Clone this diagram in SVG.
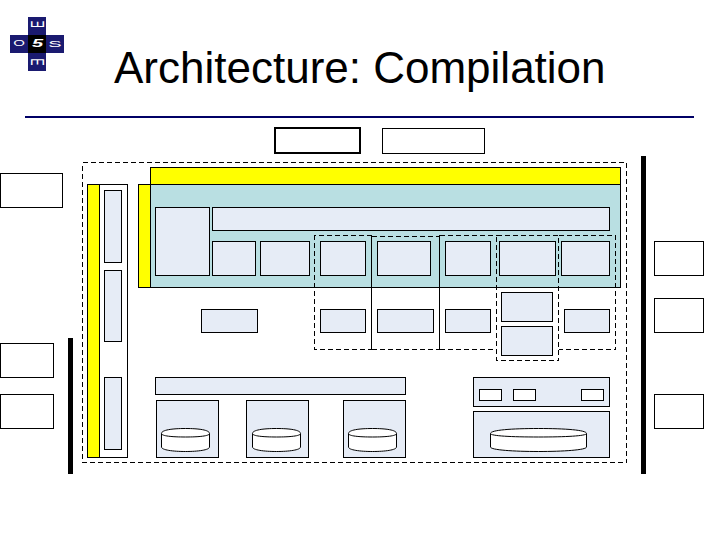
<svg xmlns="http://www.w3.org/2000/svg" width="720" height="540" viewBox="0 0 720 540">
<style>
rect,path,line{shape-rendering:crispEdges}
.b{fill:#e6ecf6;stroke:#000;stroke-width:1}
.w{fill:#fff;stroke:#000;stroke-width:1}
.y{fill:#ff0;stroke:#000;stroke-width:1}
.t{fill:#b9dfe2;stroke:#000;stroke-width:1}
.d{fill:none;stroke:#000;stroke-width:1;stroke-dasharray:5 3}
.s{stroke:#000;stroke-width:1;fill:none}
.c{fill:#fff;stroke:#000;stroke-width:1;shape-rendering:geometricPrecision}
.l{font-family:"Liberation Sans",Arial,sans-serif;font-size:10px;fill:#fff;text-anchor:middle}
</style>
<rect width="720" height="540" fill="#fff"/>
<g id="logo">
<rect x="28" y="17" width="18" height="54" fill="#1a1a70"/>
<rect x="10" y="35" width="54" height="18" fill="#1a1a70"/>
<rect x="28" y="35" width="18" height="18" fill="#000"/>
<text class="l" transform="translate(37.300 24.400) rotate(-90) scale(1.100 1.860)" y="3.600">E</text>
<text class="l" transform="translate(37.300 62) rotate(90) scale(1.100 1.860)" y="3.600">E</text>
<text class="l" transform="translate(19.200 43) scale(1.500 0.900)" y="3.600">O</text>
<text class="l" transform="translate(55 43.500) scale(2 0.900)" y="3.600">S</text>
<text class="l" transform="translate(37.500 43.200) scale(2 1.050)" y="3.600" font-style="italic" font-weight="bold">5</text>
</g>
<g id="title"><text x="114" y="83" font-family="'Liberation Sans',Arial,sans-serif" font-size="44" fill="#000">Architecture: Compilation</text></g>
<rect id="rule" x="25" y="116" width="669" height="2" fill="#000066"/>
<g id="outer"><rect class="d" x="82.5" y="162.5" width="544" height="300"/></g>
<g id="top-boxes">
<rect x="275" y="128" width="85" height="25" fill="#fff" stroke="#000" stroke-width="2"/>
<rect class="w" x="382.5" y="128.5" width="102" height="25"/>
</g>
<g id="left-boxes">
<rect class="w" x="0.5" y="173.5" width="62" height="34"/>
<rect class="w" x="0.5" y="343.5" width="53" height="34"/>
<rect class="w" x="0.500" y="394.5" width="53" height="34"/>
</g>
<g id="right-boxes">
<rect class="w" x="654.5" y="241.5" width="49" height="34"/>
<rect class="w" x="654.5" y="298.5" width="49" height="34"/>
<rect class="w" x="654.5" y="394.5" width="49" height="34"/>
</g>
<g id="bars">
<rect x="68" y="338" width="5" height="136" fill="#000"/>
<rect x="641" y="156" width="5" height="318" fill="#000"/>
</g>
<g id="left-column">
<rect class="w" x="87.5" y="184.5" width="40" height="273"/>
<rect class="y" x="87.5" y="184.5" width="12" height="273"/>
<rect class="b" x="104.5" y="190.5" width="17" height="72"/>
<rect class="b" x="104.5" y="270.5" width="17" height="71"/>
<rect class="b" x="104.5" y="377.5" width="17" height="72"/>
</g>
<g id="compiler">
<rect class="t" x="150.5" y="184.5" width="470" height="103"/>
<rect class="y" x="150.5" y="167.5" width="470" height="17"/>
<rect class="y" x="138.5" y="184.5" width="12" height="103"/>
<rect class="b" x="155.5" y="207.5" width="54" height="68"/>
<rect class="b" x="212.5" y="207.5" width="397" height="23"/>
<rect class="b" x="212.5" y="241.5" width="43" height="34"/>
<rect class="b" x="260.5" y="241.5" width="49" height="34"/>
<rect class="b" x="320.500" y="241.5" width="45" height="34"/>
<rect class="b" x="377.500" y="241.5" width="53" height="34"/>
<rect class="b" x="445.500" y="241.5" width="45" height="34"/>
<rect class="b" x="499.500" y="241.5" width="56" height="34"/>
<rect class="b" x="561.500" y="241.5" width="48" height="34"/>
</g>
<g id="lower-row">
<rect class="b" x="201.5" y="309.5" width="56" height="23"/>
<rect class="b" x="320.5" y="309.5" width="45" height="23"/>
<rect class="b" x="377.5" y="309.5" width="56" height="23"/>
<rect class="b" x="445.5" y="309.5" width="45" height="23"/>
<rect class="b" x="564.5" y="309.5" width="45" height="23"/>
<rect class="b" x="501.5" y="292.5" width="51" height="29"/>
<rect class="b" x="501.5" y="326.5" width="51" height="29"/>
</g>
<g id="connectors">
<path class="d" d="M371.500 235.500H314.500V349.500H371.500"/>
<path class="d" d="M371.500 236.500H439.500M371.500 349.500H439.500"/>
<path class="d" d="M439.500 235.500H496.500M439.500 349.500H496.500"/>
<rect class="d" x="496.5" y="235.5" width="62" height="125"/>
<path class="d" d="M558.500 235.500H615.500V349.500H558.500"/>
<path class="s" d="M371.500 235V350M439.500 235V350"/>
</g>
<g id="storage">
<rect class="b" x="155.5" y="377.5" width="250" height="17"/>
<rect class="b" x="156.5" y="400.5" width="62" height="57"/>
<rect class="b" x="246.5" y="400.5" width="62" height="57"/>
<rect class="b" x="343.5" y="400.5" width="62" height="57"/>
<path class="c" d="M161.500 433.500C161.500 430 172 428.500 185.500 428.500S209.500 430 209.500 433.500V447C209.500 450 198 451.500 185.500 451.500S161.500 450 161.500 447Z"/>
<path class="c" d="M161.500 433.500C161.500 436 172 437 185.500 437S209.500 436 209.500 433.500"/>
<path class="c" d="M252.500 433.500C252.500 430 263 428.500 276.500 428.500S300.500 430 300.500 433.500V447C300.500 450 289 451.500 276.500 451.500S252.500 450 252.500 447Z"/>
<path class="c" d="M252.500 433.500C252.500 436 263 437 276.500 437S300.500 436 300.500 433.500"/>
<path class="c" d="M348.500 433.500C348.500 430 359 428.500 372.500 428.500S396.500 430 396.500 433.500V447C396.500 450 385 451.500 372.500 451.500S348.500 450 348.500 447Z"/>
<path class="c" d="M348.500 433.500C348.500 436 359 437 372.500 437S396.500 436 396.500 433.500"/>
</g>
<g id="right-storage">
<rect class="b" x="473.5" y="377.5" width="136" height="29"/>
<rect class="w" x="479.5" y="389.5" width="22" height="11"/>
<rect class="w" x="513.5" y="389.5" width="22" height="11"/>
<rect class="w" x="581.5" y="389.5" width="22" height="11"/>
<rect class="b" x="473.5" y="411.5" width="136" height="46"/>
<path class="c" d="M490.500 433.500C490.500 430 512 428.500 538.500 428.500S586.500 430 586.500 433.500V447C586.500 450 563 451.500 538.500 451.500S490.500 450 490.500 447Z"/>
<path class="c" d="M490.500 433.500C490.500 436 512 437 538.500 437S586.500 436 586.500 433.500"/>
</g>
</svg>
